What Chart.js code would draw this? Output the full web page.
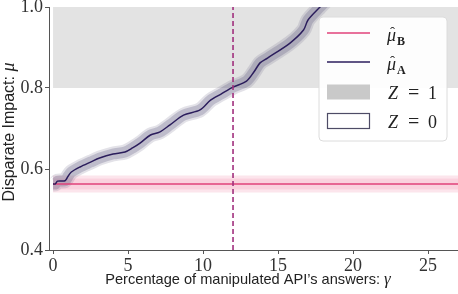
<!DOCTYPE html>
<html>
<head>
<meta charset="utf-8">
<script src="https://cdn.jsdelivr.net/npm/chart.js@4.4.0/dist/chart.umd.min.js"></script>
<style>
  body { margin: 0; background: #fff; }
</style>
</head>
<body>
<canvas id="myChart" width="458" height="294"></canvas>
<script>
// values
var gammaA = [0, 0.15, 0.3, 0.8, 1.0, 1.2, 1.8, 2.5, 3.1, 4.0, 4.8, 5.3, 5.8, 6.5, 7.1, 7.8, 8.7, 9.8, 10.5, 11.2, 12.0, 12.9, 13.4, 13.8, 14.3, 15.8, 16.7, 17.0, 17.8, 18.6]
var muA = [0.563, 0.563, 0.570, 0.571, 0.582, 0.592, 0.605, 0.617, 0.627, 0.637, 0.642, 0.652, 0.664, 0.684, 0.691, 0.709, 0.733, 0.746, 0.770, 0.785, 0.802, 0.817, 0.840, 0.862, 0.874, 0.911, 0.943, 0.968, 1.0, 1.03]
var gammaB = [0, 27]
var muB = [0.563, 0.563]
var gammaCut = [12, 12]
var cutSpan = [0.4, 1.0]
var zoneX = [0, 27]
var zoneLow = [0.8, 0.8]
var zoneHigh = [1.0, 1.0]
var xTicks = [0, 5, 10, 15, 20, 25]
var yTicks = [0.4, 0.6, 0.8, 1.0]

function pts(xs, ys) {
  return xs.map(function(x, i) { return {x: x, y: ys[i]} })
}

var ctx = document.getElementById('myChart').getContext('2d');

function drawRuns(c, runs, x, y) {
  var cx = x
  for (var i in runs) {
    c.font = runs[i].font
    c.fillText(runs[i].text, cx, y)
    cx += c.measureText(runs[i].text).width
  }
}
function runsWidth(c, runs) {
  var w = 0
  for (var i in runs) {
    c.font = runs[i].font
    w += c.measureText(runs[i].text).width
  }
  return w
}

// axis titles + legend, drawn by hand for the math bits
var extras = {
  id: 'extras',
  afterDraw: function(chart) {
    var c = chart.ctx
    c.save()
    c.fillStyle = '#222'
    c.textBaseline = 'alphabetic'
    c.textAlign = 'left'

    var xr = [{text: 'Percentage of manipulated API\u2019s answers: ', font: '14.6px "Liberation Sans"'},
              {text: '\u03b3', font: 'italic 17px "Liberation Serif"'}]
    var w = runsWidth(c, xr)
    drawRuns(c, xr, 248 - w / 2, 284)

    var yr = [{text: 'Disparate Impact: ', font: '16px "Liberation Sans"'},
              {text: '\u03bc', font: 'italic 18px "Liberation Serif"'}]
    w = runsWidth(c, yr)
    c.save()
    c.translate(14, 132)
    c.rotate(-Math.PI / 2)
    drawRuns(c, yr, -w / 2, 0)
    c.restore()

    // legend box
    var L = 319, T = 17, R = 447, B = 141
    c.beginPath()
    c.roundRect(L, T, R - L, B - T, 4)
    c.fillStyle = 'rgba(255,255,255,0.93)'
    c.fill()
    c.strokeStyle = '#dcdcdc'
    c.lineWidth = 1
    c.stroke()

    var hx0 = 327, hx1 = 370, tx = 387
    var rows = [33, 62, 92, 121]

    c.lineWidth = 1.6
    c.strokeStyle = '#e0427a'
    c.beginPath(); c.moveTo(hx0, rows[0]); c.lineTo(hx1, rows[0]); c.stroke()
    c.strokeStyle = '#2b1d5c'
    c.beginPath(); c.moveTo(hx0, rows[1]); c.lineTo(hx1, rows[1]); c.stroke()
    c.fillStyle = '#c9c9c9'
    c.fillRect(hx0, rows[2] - 7.5, hx1 - hx0, 15)
    c.fillStyle = '#fff'
    c.fillRect(hx0, rows[3] - 7.5, hx1 - hx0, 15)
    c.strokeStyle = '#4e4c66'
    c.lineWidth = 1.2
    c.strokeRect(hx0 + 0.5, rows[3] - 7.5, hx1 - hx0 - 1, 15)

    c.fillStyle = '#222'
    var subs = ['B', 'A']
    for (var k = 0; k < 2; k++) {
      var by = rows[k] + 8
      c.font = 'italic 18px "Liberation Serif"'
      c.fillText('\u03bc', tx, by)
      c.font = '15px "Liberation Serif"'
      c.fillText('\u02c6', tx + 3, by - 4)
      c.font = 'bold 12px "Liberation Serif"'
      c.fillText(subs[k], tx + 10, by + 4)
    }
    var zs = ['1', '0']
    for (var k = 0; k < 2; k++) {
      var zy = rows[k + 2] + 7
      c.font = 'italic 18px "Liberation Serif"'
      c.fillText('Z', tx + 1, zy)
      c.font = '20px "Liberation Serif"'
      c.fillText('=', tx + 21, zy)
      c.font = '18px "Liberation Serif"'
      c.fillText(zs[k], tx + 41, zy)
    }
    c.restore()
  }
}

var myChart = new Chart(ctx, {
  type: 'line',
  data: {
    datasets: [
      // Z = 1 zone
      { data: pts(zoneX, zoneLow), borderWidth: 0, pointRadius: 0, order: 20 },
      { data: pts(zoneX, zoneHigh), borderWidth: 0, pointRadius: 0, fill: '-1', backgroundColor: '#e3e3e3', order: 19 },
      // muB band
      { data: pts(gammaB, muB), borderColor: 'rgba(232,70,122,0.14)', borderWidth: 17, pointRadius: 0, borderCapStyle: 'butt', order: 15 },
      { data: pts(gammaB, muB), borderColor: 'rgba(232,70,122,0.12)', borderWidth: 11, pointRadius: 0, borderCapStyle: 'butt', order: 14 },
      // muA band
      { data: pts(gammaA, muA), borderColor: 'rgba(115,110,140,0.2)', borderWidth: 15, pointRadius: 0, tension: 0.3, borderCapStyle: 'butt', borderJoinStyle: 'round', order: 13 },
      { data: pts(gammaA, muA), borderColor: 'rgba(95,88,125,0.28)', borderWidth: 11, pointRadius: 0, tension: 0.3, borderCapStyle: 'butt', borderJoinStyle: 'round', order: 12 },
      // lines
      { label: 'muB', data: pts(gammaB, muB), borderColor: '#e0427a', borderWidth: 1.6, pointRadius: 0, order: 5 },
      { label: 'muA', data: pts(gammaA, muA), borderColor: '#2b1d5c', borderWidth: 1.5, pointRadius: 0, tension: 0.3, order: 4 },
      { data: pts(gammaCut, cutSpan), borderColor: '#a1307e', borderWidth: 1.6, borderDash: [5, 3], pointRadius: 0, order: 1 }
    ]
  },
  options: {
    responsive: false,
    animation: false,
    layout: { padding: { top: 7, right: 0, left: 0, bottom: 0 } },
    plugins: { legend: { display: false }, tooltip: { enabled: false } },
    datasets: { line: { clip: 0 } },
    scales: {
      x: {
        type: 'linear', min: -0.27, max: 27,
        afterBuildTicks: function(s) { s.ticks = xTicks.map(function(v) { return {value: v} }) },
        afterFit: function(s) { s.height = 44; s.paddingLeft = 0; s.paddingRight = 0 },
        grid: { display: true, drawOnChartArea: false, tickLength: 4, color: '#555' },
        border: { color: '#555', width: 1 },
        ticks: { padding: 1, color: '#333', font: { family: 'Liberation Serif', size: 18 }, maxRotation: 0 }
      },
      y: {
        min: 0.4, max: 1.0,
        afterBuildTicks: function(s) { s.ticks = yTicks.map(function(v) { return {value: v} }) },
        afterFit: function(s) { s.width = 49; s.paddingTop = 0; s.paddingBottom = 0 },
        grid: { display: true, drawOnChartArea: false, tickLength: 4, color: '#555' },
        border: { color: '#555', width: 1 },
        ticks: { padding: 2, color: '#333', font: { family: 'Liberation Serif', size: 18 },
                 callback: function(v) { return v.toFixed(1) } }
      }
    }
  },
  plugins: [extras]
})
</script>
</body>
</html>
